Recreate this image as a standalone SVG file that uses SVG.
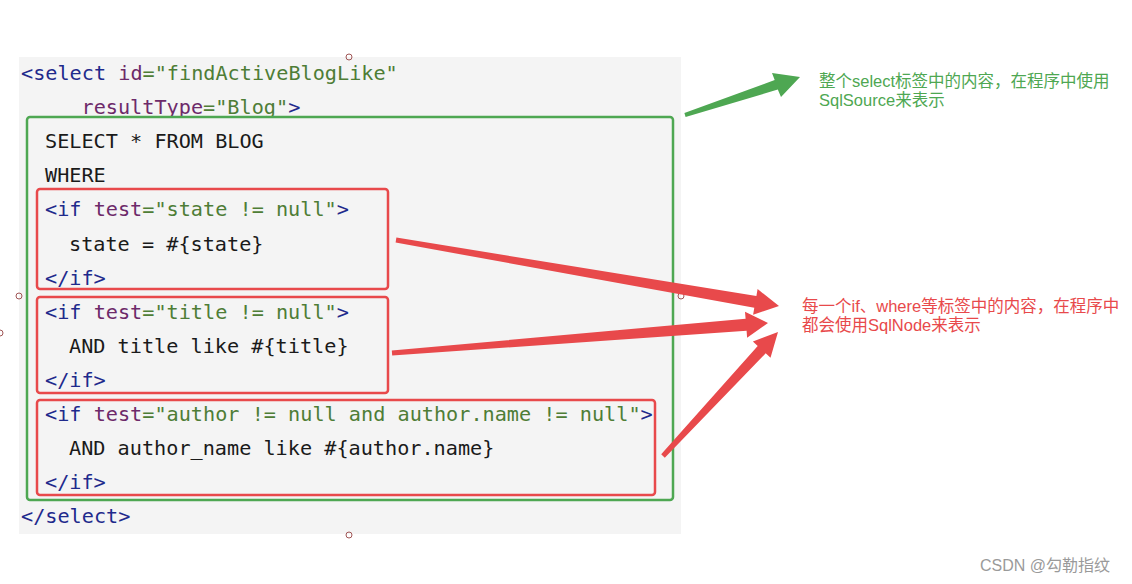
<svg xmlns="http://www.w3.org/2000/svg" width="1132" height="584" viewBox="0 0 1132 584">
<style>
.code{font-family:"DejaVu Sans Mono","Liberation Mono",monospace;font-size:20.2px;fill:#1a1a1a}
.tag{fill:#1f2a8c}
.attr{fill:#6d2a6a}
.val{fill:#4e7d36}
.box{fill:none;stroke-width:2.5}
.red{stroke:#e8494b}
.grn{stroke:#4ea752}
.note{font-family:"Liberation Sans","Noto Sans CJK SC",sans-serif;font-size:16.5px}
.handle{fill:none;stroke:#a05555;stroke-width:1}
</style>
<rect width="1132" height="584" fill="#ffffff"/>
<g id="code-block">
<rect x="19" y="57" width="662" height="477" fill="#f4f4f4"/>
<text class="code" x="21" y="80"><tspan class="tag">&lt;select</tspan> <tspan class="attr">id</tspan><tspan class="val">="findActiveBlogLike"</tspan></text>
<text class="code" x="81.5" y="114"><tspan class="attr">resultType</tspan><tspan class="val">="Blog"</tspan><tspan class="tag">&gt;</tspan></text>
<text class="code" x="45" y="148">SELECT * FROM BLOG</text>
<text class="code" x="45" y="182">WHERE</text>
<text class="code" x="45" y="216"><tspan class="tag">&lt;if</tspan> <tspan class="attr">test</tspan><tspan class="val">="state != null"</tspan><tspan class="tag">&gt;</tspan></text>
<text class="code" x="69" y="251">state = #{state}</text>
<text class="code" x="45" y="285"><tspan class="tag">&lt;/if&gt;</tspan></text>
<text class="code" x="45" y="319"><tspan class="tag">&lt;if</tspan> <tspan class="attr">test</tspan><tspan class="val">="title != null"</tspan><tspan class="tag">&gt;</tspan></text>
<text class="code" x="69" y="353">AND title like #{title}</text>
<text class="code" x="45" y="387"><tspan class="tag">&lt;/if&gt;</tspan></text>
<text class="code" x="45" y="421"><tspan class="tag">&lt;if</tspan> <tspan class="attr">test</tspan><tspan class="val">="author != null and author.name != null"</tspan><tspan class="tag">&gt;</tspan></text>
<text class="code" x="69" y="455">AND author_name like #{author.name}</text>
<text class="code" x="45" y="489"><tspan class="tag">&lt;/if&gt;</tspan></text>
<text class="code" x="21" y="523"><tspan class="tag">&lt;/select&gt;</tspan></text>
</g>
<g id="sqlsource-box"><rect class="box grn" x="27" y="117" width="646" height="383" rx="3"/></g>
<g id="if-state-box"><rect class="box red" x="37" y="189" width="351" height="100" rx="3"/></g>
<g id="if-title-box"><rect class="box red" x="37" y="297" width="351" height="96" rx="3"/></g>
<g id="if-author-box"><rect class="box red" x="37" y="400" width="618" height="95" rx="3"/></g>
<g id="handles">
<circle class="handle" cx="349" cy="57" r="3"/>
<circle class="handle" cx="19" cy="296" r="3"/>
<circle class="handle" cx="681" cy="296" r="3"/>
<circle class="handle" cx="349" cy="535" r="3"/>
<circle class="handle" cx="0" cy="333" r="3"/>
</g>
<g id="connectors">
<polygon fill="#4ea752" points="685.6,116.9 777.8,89.6 781,97 800,77 772,73 774.7,80.1 684.4,113.1"/>
<polygon fill="#e8494b" points="395.6,242.5 754.3,307.8 753.1,314.7 779,306 757.6,289.1 756.4,296 396.4,237.5"/>
<polygon fill="#e8494b" points="392.2,355.5 746.6,330.7 747.1,337.7 768,323 745,311.8 745.6,318.8 391.8,350.5"/>
<polygon fill="#e8494b" points="664.8,457.7 765.7,353.3 770.5,357.8 778,332 752.9,341.4 757.7,345.9 661.2,454.3"/>
</g>
<g id="sqlsource-label">
<text class="note" fill="#4ea752" x="819" y="87">整个select标签中的内容，在程序中使用</text>
<text class="note" fill="#4ea752" x="819" y="106">SqlSource来表示</text>
</g>
<g id="sqlnode-label">
<text class="note" fill="#e8494b" x="802" y="312">每一个if、where等标签中的内容，在程序中</text>
<text class="note" fill="#e8494b" x="802" y="331">都会使用SqlNode来表示</text>
</g>
<text x="980" y="571" font-family="Liberation Sans,'Noto Sans CJK SC',sans-serif" font-size="16" fill="#9a9a9a">CSDN @勾勒指纹</text>
</svg>
